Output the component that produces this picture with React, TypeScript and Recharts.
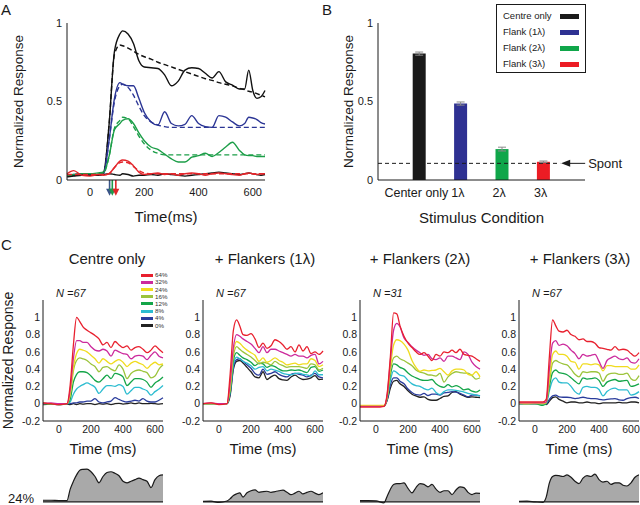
import React from "react";
import {
  Area,
  AreaChart,
  Bar,
  BarChart,
  Cell,
  ErrorBar,
  Line,
  LineChart,
  ReferenceLine,
  XAxis,
  YAxis,
} from "recharts";

const FONT = '"Liberation Sans", Arial, Helvetica, sans-serif';
const INK = "#1a1a1a";

// ---- Panel A: population PSTH with fits ----
const aTime = [-85, -60, -30, 0, 30, 50, 70, 90, 110, 120, 140, 160, 180, 200, 225, 250, 275, 300, 325, 350, 375, 400, 425, 450, 475, 500, 525, 550, 570, 585, 600, 615, 630, 645];
const aCentre = [0.03, 0.03, 0.035, 0.03, 0.035, 0.05, 0.35, 0.82, 0.93, 0.95, 0.93, 0.87, 0.76, 0.72, 0.715, 0.71, 0.67, 0.6, 0.63, 0.7, 0.715, 0.71, 0.68, 0.65, 0.69, 0.625, 0.605, 0.58, 0.58, 0.7, 0.57, 0.52, 0.53, 0.57];
const aCentreFit = [0.03, 0.03, 0.03, 0.03, 0.03, 0.04, 0.35, 0.8, 0.86, 0.855, 0.84, 0.82, 0.8, 0.785, 0.77, 0.75, 0.735, 0.72, 0.705, 0.69, 0.675, 0.66, 0.645, 0.635, 0.62, 0.61, 0.6, 0.585, 0.575, 0.565, 0.56, 0.55, 0.54, 0.53];
const aFlank1 = [0.03, 0.035, 0.04, 0.03, 0.03, 0.04, 0.25, 0.52, 0.62, 0.61, 0.6, 0.6, 0.52, 0.43, 0.37, 0.35, 0.435, 0.36, 0.345, 0.355, 0.41, 0.36, 0.34, 0.335, 0.41, 0.4, 0.37, 0.345, 0.36, 0.4, 0.395, 0.385, 0.365, 0.357];
const aFlank1Fit = [0.03, 0.03, 0.03, 0.03, 0.03, 0.04, 0.25, 0.5, 0.6, 0.61, 0.59, 0.54, 0.47, 0.41, 0.37, 0.35, 0.34, 0.335, 0.335, 0.335, 0.335, 0.335, 0.335, 0.335, 0.335, 0.335, 0.335, 0.335, 0.335, 0.335, 0.335, 0.335, 0.335, 0.335];
const aFlank2 = [0.03, 0.035, 0.04, 0.04, 0.045, 0.05, 0.15, 0.32, 0.36, 0.38, 0.39, 0.36, 0.3, 0.25, 0.21, 0.195, 0.165, 0.135, 0.115, 0.115, 0.145, 0.155, 0.17, 0.15, 0.175, 0.21, 0.24, 0.19, 0.16, 0.155, 0.155, 0.15, 0.15, 0.15];
const aFlank2Fit = [0.03, 0.03, 0.03, 0.035, 0.04, 0.045, 0.15, 0.33, 0.38, 0.4, 0.39, 0.34, 0.28, 0.23, 0.19, 0.17, 0.16, 0.16, 0.16, 0.16, 0.16, 0.16, 0.16, 0.16, 0.16, 0.16, 0.16, 0.16, 0.16, 0.16, 0.16, 0.16, 0.16, 0.16];
const aFlank3 = [0.04, 0.06, 0.03, 0.025, 0.035, 0.03, 0.04, 0.08, 0.12, 0.127, 0.12, 0.09, 0.05, 0.035, 0.04, 0.045, 0.035, 0.04, 0.03, 0.04, 0.045, 0.04, 0.03, 0.04, 0.045, 0.04, 0.035, 0.03, 0.04, 0.045, 0.04, 0.035, 0.04, 0.04];
const aFlank3Fit = [0.035, 0.035, 0.035, 0.035, 0.035, 0.035, 0.04, 0.08, 0.11, 0.115, 0.11, 0.085, 0.06, 0.045, 0.04, 0.04, 0.04, 0.04, 0.04, 0.04, 0.04, 0.04, 0.04, 0.04, 0.04, 0.04, 0.04, 0.04, 0.04, 0.04, 0.04, 0.04, 0.04, 0.04];
const aSpont = [0.02, 0.025, 0.03, 0.03, 0.03, 0.035, 0.04, 0.035, 0.03, 0.04, 0.035, 0.025, 0.03, 0.03, 0.035, 0.03, 0.04, 0.035, 0.03, 0.025, 0.03, 0.035, 0.04, 0.045, 0.05, 0.045, 0.04, 0.035, 0.04, 0.045, 0.04, 0.035, 0.03, 0.035];
const onsetTimes = [72, 82, 95];
const onsetColors = ["#3a5488", "#1f9a4a", "#e0262a"];

// ---- Panel B: mean response per condition ----
const condLabels = ["Center only", "1λ", "2λ", "3λ"];
const condPos = [1, 2, 3, 4];
const condValues = [0.805, 0.487, 0.197, 0.116];
const condErrors = [0.01, 0.01, 0.012, 0.005];
const condColors = ["#1a1a1a", "#2e3192", "#10a64a", "#ec1c24"];
const legendNames = ["Centre only", "Flank (1λ)", "Flank (2λ)", "Flank (3λ)"];
const spontLevel = 0.106;
const spontEnd = 4.4;

// ---- Panel C: contrast series ----
const cTime = [-100, -50, 0, 50, 70, 90, 110, 130, 150, 175, 200, 225, 250, 275, 300, 325, 350, 375, 400, 425, 450, 475, 500, 525, 550, 575, 600, 625, 650];
const contrastLabels = ["64%", "32%", "24%", "16%", "12%", "8%", "4%", "0%"];
const contrastColors = ["#e8202e", "#cc2a9c", "#f0dc1e", "#9cc43c", "#14a548", "#2cbcd0", "#2a3c9c", "#222222"];

const cen64 = [0.01, 0.0, -0.01, 0.0, 0.22, 0.68, 1.0, 0.95, 0.89, 0.85, 0.82, 0.79, 0.75, 0.68, 0.71, 0.65, 0.72, 0.68, 0.65, 0.67, 0.62, 0.65, 0.66, 0.63, 0.59, 0.62, 0.67, 0.63, 0.59];
const cen32 = [0.0, 0.01, 0.0, 0.0, 0.16, 0.52, 0.73, 0.73, 0.71, 0.71, 0.66, 0.62, 0.61, 0.63, 0.61, 0.55, 0.62, 0.6, 0.58, 0.57, 0.52, 0.55, 0.56, 0.55, 0.51, 0.56, 0.6, 0.55, 0.53];
const cen24 = [0.01, 0.0, 0.0, 0.0, 0.12, 0.42, 0.58, 0.63, 0.62, 0.6, 0.56, 0.52, 0.47, 0.52, 0.49, 0.46, 0.49, 0.51, 0.48, 0.43, 0.47, 0.49, 0.47, 0.45, 0.41, 0.45, 0.48, 0.45, 0.46];
const cen16 = [0.0, 0.0, 0.0, 0.0, 0.1, 0.38, 0.5, 0.53, 0.52, 0.5, 0.46, 0.43, 0.37, 0.42, 0.43, 0.4, 0.38, 0.45, 0.4, 0.29, 0.35, 0.38, 0.39, 0.375, 0.36, 0.3, 0.32, 0.4, 0.45];
const cen12 = [0.0, 0.0, -0.01, 0.0, 0.05, 0.25, 0.34, 0.37, 0.37, 0.36, 0.32, 0.27, 0.25, 0.29, 0.33, 0.29, 0.35, 0.34, 0.31, 0.21, 0.25, 0.29, 0.29, 0.28, 0.25, 0.19, 0.24, 0.27, 0.31];
const cen8 = [0.0, 0.0, 0.0, 0.0, 0.02, 0.11, 0.17, 0.2, 0.22, 0.24, 0.22, 0.19, 0.12, 0.17, 0.21, 0.21, 0.2, 0.22, 0.2, 0.11, 0.15, 0.19, 0.19, 0.17, 0.15, 0.1, 0.14, 0.17, 0.21];
const cen4 = [0.01, 0.0, 0.0, 0.0, 0.0, 0.01, 0.01, 0.02, 0.02, 0.03, 0.03, 0.06, 0.02, 0.01, 0.02, 0.03, 0.07, 0.05, 0.03, 0.02, 0.03, 0.04, 0.03, 0.06, 0.03, 0.02, 0.02, 0.04, 0.07];
const cen0 = [-0.01, -0.005, -0.01, -0.005, -0.01, 0.0, -0.01, 0.0, -0.005, 0.0, 0.0, -0.01, 0.0, -0.005, 0.0, -0.01, 0.0, 0.005, -0.005, 0.0, 0.01, 0.0, 0.01, 0.0, 0.0, 0.005, 0.0, -0.005, 0.0];

const f1_64 = [0.0, 0.01, -0.01, 0.0, 0.35, 0.85, 0.97, 0.9, 0.8, 0.79, 0.81, 0.75, 0.65, 0.7, 0.64, 0.67, 0.74, 0.72, 0.68, 0.63, 0.66, 0.6, 0.68, 0.61, 0.66, 0.58, 0.6, 0.57, 0.61];
const f1_32 = [0.0, 0.01, 0.0, 0.0, 0.25, 0.65, 0.8, 0.78, 0.75, 0.72, 0.69, 0.64, 0.59, 0.66, 0.59, 0.63, 0.63, 0.61, 0.59, 0.57, 0.55, 0.57, 0.55, 0.55, 0.53, 0.56, 0.57, 0.46, 0.49];
const f1_24 = [0.0, 0.0, 0.0, 0.0, 0.2, 0.6, 0.72, 0.7, 0.66, 0.62, 0.59, 0.56, 0.49, 0.53, 0.48, 0.5, 0.53, 0.5, 0.48, 0.45, 0.46, 0.47, 0.45, 0.46, 0.46, 0.52, 0.5, 0.43, 0.45];
const f1_16 = [0.0, 0.0, 0.0, 0.0, 0.18, 0.55, 0.66, 0.63, 0.6, 0.57, 0.54, 0.5, 0.46, 0.48, 0.47, 0.45, 0.49, 0.46, 0.44, 0.42, 0.43, 0.43, 0.43, 0.42, 0.41, 0.46, 0.45, 0.39, 0.41];
const f1_12 = [0.0, 0.0, 0.0, 0.0, 0.15, 0.5, 0.59, 0.56, 0.53, 0.51, 0.48, 0.44, 0.47, 0.46, 0.42, 0.44, 0.43, 0.4, 0.38, 0.38, 0.39, 0.385, 0.39, 0.375, 0.36, 0.42, 0.43, 0.375, 0.39];
const f1_8 = [0.0, 0.0, 0.0, 0.0, 0.14, 0.45, 0.54, 0.52, 0.49, 0.47, 0.44, 0.4, 0.42, 0.43, 0.38, 0.4, 0.39, 0.375, 0.35, 0.34, 0.335, 0.35, 0.355, 0.34, 0.335, 0.32, 0.38, 0.335, 0.335];
const f1_4 = [0.0, 0.0, 0.0, 0.0, 0.12, 0.42, 0.51, 0.52, 0.49, 0.45, 0.41, 0.35, 0.33, 0.4, 0.34, 0.35, 0.37, 0.34, 0.32, 0.31, 0.34, 0.35, 0.34, 0.33, 0.31, 0.33, 0.35, 0.31, 0.3];
const f1_0 = [0.0, 0.0, 0.0, 0.0, 0.1, 0.4, 0.49, 0.5, 0.47, 0.42, 0.37, 0.31, 0.3, 0.37, 0.28, 0.31, 0.33, 0.29, 0.275, 0.27, 0.31, 0.33, 0.3, 0.28, 0.285, 0.3, 0.325, 0.28, 0.285];

const f2_64 = [-0.04, -0.04, -0.04, -0.03, 0.12, 0.55, 1.05, 1.04, 0.9, 0.78, 0.7, 0.65, 0.6, 0.57, 0.59, 0.55, 0.5, 0.57, 0.55, 0.6, 0.59, 0.62, 0.59, 0.63, 0.57, 0.56, 0.55, 0.52, 0.49];
const f2_32 = [-0.03, -0.03, -0.03, -0.03, 0.1, 0.5, 0.85, 0.93, 0.89, 0.76, 0.71, 0.66, 0.62, 0.59, 0.56, 0.57, 0.52, 0.51, 0.53, 0.49, 0.55, 0.55, 0.53, 0.51, 0.6, 0.57, 0.48, 0.43, 0.4];
const f2_24 = [-0.02, -0.02, -0.02, -0.02, 0.08, 0.42, 0.68, 0.74, 0.73, 0.69, 0.62, 0.5, 0.42, 0.375, 0.39, 0.38, 0.385, 0.39, 0.41, 0.37, 0.33, 0.38, 0.4, 0.4, 0.39, 0.34, 0.33, 0.37, 0.31];
const f2_16 = [-0.03, -0.03, -0.03, -0.03, 0.08, 0.38, 0.53, 0.55, 0.52, 0.5, 0.47, 0.44, 0.39, 0.365, 0.355, 0.335, 0.33, 0.32, 0.35, 0.25, 0.31, 0.35, 0.37, 0.36, 0.355, 0.355, 0.325, 0.285, 0.3];
const f2_12 = [-0.03, -0.03, -0.03, -0.03, 0.07, 0.33, 0.46, 0.45, 0.42, 0.4, 0.355, 0.32, 0.3, 0.28, 0.27, 0.27, 0.28, 0.23, 0.2, 0.19, 0.22, 0.195, 0.21, 0.19, 0.16, 0.17, 0.145, 0.135, 0.16];
const f2_8 = [-0.03, -0.03, -0.03, -0.03, 0.06, 0.27, 0.38, 0.36, 0.33, 0.32, 0.27, 0.23, 0.21, 0.2, 0.175, 0.16, 0.18, 0.13, 0.105, 0.14, 0.16, 0.16, 0.155, 0.145, 0.135, 0.12, 0.11, 0.1, 0.09];
const f2_4 = [-0.03, -0.03, -0.03, -0.03, 0.05, 0.22, 0.3, 0.3, 0.26, 0.23, 0.17, 0.13, 0.105, 0.1, 0.12, 0.095, 0.11, 0.11, 0.1, 0.125, 0.13, 0.14, 0.135, 0.12, 0.1, 0.08, 0.1, 0.1, 0.09];
const f2_0 = [-0.03, -0.03, -0.03, -0.03, 0.04, 0.18, 0.26, 0.27, 0.23, 0.2, 0.15, 0.11, 0.09, 0.075, 0.08, 0.05, 0.04, 0.04, 0.06, 0.085, 0.09, 0.13, 0.14, 0.11, 0.09, 0.075, 0.08, 0.075, 0.07];

const f3_64 = [0.02, 0.02, 0.02, 0.02, 0.05, 0.55, 0.97, 0.9, 0.84, 0.83, 0.85, 0.8, 0.78, 0.74, 0.75, 0.72, 0.72, 0.7, 0.65, 0.64, 0.63, 0.62, 0.66, 0.62, 0.63, 0.62, 0.58, 0.55, 0.59];
const f3_32 = [0.01, 0.01, 0.01, 0.01, 0.02, 0.4, 0.7, 0.73, 0.675, 0.69, 0.67, 0.62, 0.58, 0.52, 0.57, 0.55, 0.56, 0.57, 0.49, 0.41, 0.5, 0.53, 0.55, 0.52, 0.51, 0.53, 0.48, 0.47, 0.52];
const f3_24 = [0.01, 0.0, 0.01, 0.0, 0.02, 0.3, 0.57, 0.61, 0.57, 0.57, 0.55, 0.49, 0.48, 0.4, 0.46, 0.46, 0.45, 0.46, 0.45, 0.38, 0.44, 0.44, 0.43, 0.43, 0.43, 0.43, 0.4, 0.4, 0.45];
const f3_16 = [0.0, 0.0, 0.0, 0.0, 0.01, 0.25, 0.47, 0.5, 0.48, 0.46, 0.45, 0.4, 0.34, 0.31, 0.37, 0.36, 0.37, 0.37, 0.355, 0.26, 0.33, 0.35, 0.355, 0.34, 0.34, 0.355, 0.29, 0.27, 0.325];
const f3_12 = [0.0, 0.0, 0.0, -0.02, 0.01, 0.2, 0.36, 0.39, 0.36, 0.35, 0.335, 0.3, 0.26, 0.23, 0.3, 0.285, 0.29, 0.3, 0.27, 0.2, 0.25, 0.27, 0.28, 0.26, 0.265, 0.27, 0.2, 0.21, 0.23];
const f3_8 = [0.0, 0.0, 0.0, -0.01, 0.0, 0.15, 0.27, 0.3, 0.25, 0.24, 0.24, 0.2, 0.14, 0.11, 0.19, 0.2, 0.19, 0.19, 0.165, 0.09, 0.14, 0.17, 0.18, 0.16, 0.16, 0.16, 0.1, 0.11, 0.14];
const f3_4 = [0.0, 0.0, 0.0, 0.0, 0.0, 0.05, 0.09, 0.1, 0.08, 0.075, 0.075, 0.07, 0.06, 0.065, 0.075, 0.065, 0.06, 0.06, 0.05, 0.045, 0.05, 0.055, 0.06, 0.045, 0.04, 0.06, 0.07, 0.075, 0.06];
const f3_0 = [0.0, 0.0, 0.0, 0.0, -0.01, 0.03, 0.07, 0.08, 0.05, 0.03, 0.01, 0.02, 0.02, 0.01, 0.01, 0.02, 0.01, 0.01, 0.0, 0.01, 0.01, 0.01, 0.01, 0.015, 0.01, 0.01, 0.02, 0.02, 0.01];

// grey traces under each panel (24% contrast)
const supCentre = [0.01, 0.01, 0.008, 0.008, 0.08, 0.13, 0.17, 0.2, 0.205, 0.207, 0.19, 0.16, 0.12, 0.16, 0.185, 0.19, 0.18, 0.165, 0.13, 0.12, 0.13, 0.14, 0.15, 0.14, 0.13, 0.09, 0.14, 0.165, 0.17];
const supF1 = [0.003, 0.004, -0.004, 0.005, 0.02, 0.04, 0.05, 0.057, 0.03, 0.057, 0.07, 0.075, 0.06, 0.065, 0.067, 0.06, 0.065, 0.07, 0.074, 0.06, 0.045, 0.055, 0.067, 0.05, 0.06, 0.067, 0.055, 0.046, 0.057];
const supF2 = [0.008, 0.008, 0.006, -0.006, 0.036, 0.08, 0.11, 0.115, 0.115, 0.12, 0.085, 0.057, 0.09, 0.115, 0.11, 0.095, 0.11, 0.08, 0.06, 0.07, 0.07, 0.046, 0.075, 0.095, 0.09, 0.06, 0.046, 0.055, 0.053];
const supF3 = [0.003, 0.004, 0.0, -0.003, 0.03, 0.12, 0.16, 0.167, 0.165, 0.16, 0.17, 0.155, 0.13, 0.115, 0.15, 0.165, 0.16, 0.175, 0.14, 0.125, 0.13, 0.11, 0.12, 0.12, 0.105, 0.1, 0.12, 0.155, 0.17];

const panelTitles = ["Centre only", "+ Flankers (1λ)", "+ Flankers (2λ)", "+ Flankers (3λ)"];
const panelN = ["N =67", "N =67", "N =31", "N =67"];

const aSeries = [
  { key: "centre", values: aCentre, color: "#111111", dash: undefined },
  { key: "centreFit", values: aCentreFit, color: "#111111", dash: "5 3" },
  { key: "flank1", values: aFlank1, color: "#2b3595", dash: undefined },
  { key: "flank1Fit", values: aFlank1Fit, color: "#2b3595", dash: "5 3" },
  { key: "flank2", values: aFlank2, color: "#1c9e48", dash: undefined },
  { key: "flank2Fit", values: aFlank2Fit, color: "#1c9e48", dash: "5 3" },
  { key: "spont", values: aSpont, color: "#111111", dash: undefined },
  { key: "flank3", values: aFlank3, color: "#e3262b", dash: undefined },
  { key: "flank3Fit", values: aFlank3Fit, color: "#e3262b", dash: "5 3" },
];

const aRows = aTime.map((t, i) => {
  const row: Record<string, number> = { t };
  aSeries.forEach((s) => (row[s.key] = s.values[i]));
  return row;
});

const bRows = condPos.map((pos, i) => ({ pos, value: condValues[i], err: condErrors[i] }));

const contrastKeys = ["c64", "c32", "c24", "c16", "c12", "c8", "c4", "c0"];
const panelSeries = [
  [cen64, cen32, cen24, cen16, cen12, cen8, cen4, cen0],
  [f1_64, f1_32, f1_24, f1_16, f1_12, f1_8, f1_4, f1_0],
  [f2_64, f2_32, f2_24, f2_16, f2_12, f2_8, f2_4, f2_0],
  [f3_64, f3_32, f3_24, f3_16, f3_12, f3_8, f3_4, f3_0],
];
const panelSup = [supCentre, supF1, supF2, supF3];

function buildRows(p: number) {
  return cTime.map((t, i) => {
    const row: Record<string, number> = { t, sup: panelSup[p][i] };
    contrastKeys.forEach((k, j) => (row[k] = panelSeries[p][j][i]));
    return row;
  });
}

// layout
const cLeft = [0, 160, 317, 476];
const cTitleCenter = [107, 265, 420, 580];

function OnsetArrow(props: any) {
  const { x1, y1, x2, y2, color } = props;
  if (x1 == null) return null;
  return (
    <g>
      <line x1={x1} y1={y1} x2={x2} y2={y2 - 4} stroke={color} strokeWidth={1.6} />
      <polygon points={`${x2 - 3.5},${y2 - 7} ${x2 + 3.5},${y2 - 7} ${x2},${y2}`} fill={color} />
    </g>
  );
}

function SpontLabel(props: any) {
  const { viewBox } = props;
  if (!viewBox) return null;
  const x = viewBox.x + viewBox.width;
  const y = viewBox.y;
  return (
    <g>
      <line x1={x + 6} y1={y} x2={x + 25} y2={y} stroke={INK} strokeWidth={1} />
      <polygon points={`${x + 1},${y} ${x + 10},${y - 3.5} ${x + 10},${y + 3.5}`} fill={INK} />
      <text x={x + 28} y={y} dominantBaseline="central" fontSize={13} fill={INK}>
        Spont
      </text>
    </g>
  );
}

function PanelA() {
  return (
    <div style={{ position: "absolute", left: 0, top: 0 }}>
      <LineChart width={275} height={232} data={aRows} margin={{ top: 23, right: 10, bottom: 0, left: 0 }}>
        <XAxis
          dataKey="t"
          type="number"
          domain={[-85, 645]}
          ticks={[0, 200, 400, 600]}
          height={52}
          tickLine={false}
          tickSize={6}
          tickMargin={2}
          axisLine={{ stroke: INK }}
          tick={{ fontSize: 11, fill: INK }}
          label={{ value: "Time(ms)", position: "insideBottom", offset: 10, fontSize: 15, fill: INK }}
        />
        <YAxis
          type="number"
          domain={[0, 1]}
          ticks={[0, 0.5, 1]}
          width={67}
          tickLine={false}
          tickSize={3}
          tickMargin={2}
          axisLine={{ stroke: INK }}
          tick={{ fontSize: 11, fill: INK }}
          label={{
            value: "Normalized Response",
            angle: -90,
            position: "insideLeft",
            offset: 18,
            fontSize: 13.5,
            fill: INK,
            style: { textAnchor: "middle" },
          }}
        />
        {onsetTimes.map((t, i) => (
          <ReferenceLine
            key={t}
            segment={[
              { x: t, y: 0 },
              { x: t, y: -0.1 },
            ]}
            ifOverflow="visible"
            stroke={onsetColors[i]}
            shape={(p: any) => <OnsetArrow {...p} color={onsetColors[i]} />}
          />
        ))}
        {aSeries.map((s) => (
          <Line
            key={s.key}
            dataKey={s.key}
            type="monotone"
            stroke={s.color}
            strokeWidth={1.4}
            strokeDasharray={s.dash}
            dot={false}
            isAnimationActive={false}
          />
        ))}
      </LineChart>
    </div>
  );
}

function PanelB() {
  return (
    <div style={{ position: "absolute", left: 290, top: 0 }}>
      <BarChart width={350} height={232} data={bRows} margin={{ top: 23, right: 55, bottom: 0, left: 0 }}>
        <XAxis
          dataKey="pos"
          type="number"
          domain={[0, 5]}
          ticks={condPos}
          tickFormatter={(v: number) => condLabels[condPos.indexOf(v)] ?? ""}
          height={52}
          tickLine={false}
          tickSize={6}
          tickMargin={2}
          axisLine={{ stroke: INK }}
          tick={{ fontSize: 12.5, fill: INK, dx: -3 }}
          label={{ value: "Stimulus Condition", position: "insideBottom", offset: 9, fontSize: 15, fill: INK }}
        />
        <YAxis
          type="number"
          domain={[0, 1]}
          ticks={[0, 0.5, 1]}
          width={88}
          tickLine={false}
          tickSize={3}
          tickMargin={2}
          axisLine={{ stroke: INK }}
          tick={{ fontSize: 11, fill: INK }}
          label={{
            value: "Normalized Response",
            angle: -90,
            position: "insideLeft",
            offset: 58,
            fontSize: 13.5,
            fill: INK,
            style: { textAnchor: "middle" },
          }}
        />
        <ReferenceLine
          segment={[
            { x: 0, y: spontLevel },
            { x: spontEnd, y: spontLevel },
          ]}
          stroke={INK}
          strokeDasharray="4 3"
          strokeWidth={1}
          label={<SpontLabel />}
        />
        <Bar dataKey="value" barSize={13} isAnimationActive={false}>
          {bRows.map((r, i) => (
            <Cell key={r.pos} fill={condColors[i]} />
          ))}
          <ErrorBar dataKey="err" width={4} stroke="#8a8a8a" strokeWidth={1} direction="y" />
        </Bar>
      </BarChart>
      <div
        style={{
          position: "absolute",
          left: 206,
          top: 4,
          width: 88,
          height: 67,
          border: `1px solid ${INK}`,
          background: "#fff",
        }}
      >
        {legendNames.map((name, i) => (
          <div
            key={name}
            style={{ position: "absolute", left: 6, top: 4 + i * 16, height: 14, width: 80, fontSize: 9.5, lineHeight: "14px" }}
          >
            {name}
            <span
              style={{
                position: "absolute",
                left: 57,
                top: 4.5,
                width: 19,
                height: 5,
                background: condColors[i],
              }}
            />
          </div>
        ))}
      </div>
    </div>
  );
}

function ContrastPanel({ p }: { p: number }) {
  const rows = buildRows(p);
  const plotLeft = cLeft[p] + 43;
  return (
    <>
      <div
        style={{
          position: "absolute",
          left: cTitleCenter[p] - 100,
          top: 250,
          width: 200,
          textAlign: "center",
          fontSize: 15,
          lineHeight: "18px",
        }}
      >
        {panelTitles[p]}
      </div>
      <div style={{ position: "absolute", left: plotLeft + 13, top: 287, fontSize: 11, fontStyle: "italic", lineHeight: "12px" }}>
        {panelN[p]}
      </div>
      <div style={{ position: "absolute", left: cLeft[p], top: 290 }}>
        <LineChart width={168} height={171} data={rows} margin={{ top: 10, right: 5, bottom: 0, left: 0 }}>
          <XAxis
            dataKey="t"
            type="number"
            domain={[-100, 650]}
            ticks={[0, 200, 400, 600]}
            height={40}
            tickLine={false}
            tickSize={3}
            tickMargin={2}
            axisLine={{ stroke: INK }}
            tick={{ fontSize: 10.5, fill: INK }}
            label={{ value: "Time (ms)", position: "insideBottom", offset: 7, fontSize: 15, fill: INK }}
          />
          <YAxis
            type="number"
            domain={[-0.2, 1.2]}
            ticks={[-0.2, 0, 0.2, 0.4, 0.6, 0.8, 1]}
            width={43}
            tickLine={false}
            tickSize={1}
            tickMargin={2}
            axisLine={{ stroke: INK }}
            tick={{ fontSize: 10.5, fill: INK }}
            label={
              p === 0
                ? {
                    value: "Normalized Response",
                    angle: -90,
                    position: "insideLeft",
                    offset: 8,
                    fontSize: 14,
                    fill: INK,
                    style: { textAnchor: "middle" },
                  }
                : undefined
            }
          />
          {contrastKeys
            .slice()
            .reverse()
            .map((k) => {
              const j = contrastKeys.indexOf(k);
              return (
                <Line
                  key={k}
                  dataKey={k}
                  type="monotone"
                  stroke={contrastColors[j]}
                  strokeWidth={1.3}
                  dot={false}
                  isAnimationActive={false}
                />
              );
            })}
        </LineChart>
      </div>
      <div style={{ position: "absolute", left: plotLeft, top: 467 }}>
        <AreaChart width={120} height={38} data={rows} margin={{ top: 0, right: 0, bottom: 0, left: 0 }}>
          <XAxis dataKey="t" type="number" domain={[-100, 650]} hide />
          <YAxis type="number" domain={[-0.02, 0.22]} hide />
          <Area
            dataKey="sup"
            type="monotone"
            stroke={INK}
            strokeWidth={1.2}
            fill="#a9a9a9"
            fillOpacity={1}
            isAnimationActive={false}
          />
          <ReferenceLine y={0} stroke={INK} strokeWidth={1.2} />
        </AreaChart>
      </div>
    </>
  );
}

function ContrastLegend() {
  return (
    <div style={{ position: "absolute", left: 141, top: 271 }}>
      {contrastLabels.map((lab, i) => (
        <div key={lab} style={{ position: "absolute", left: 0, top: i * 7.2, height: 7.2, width: 40 }}>
          <span
            style={{
              position: "absolute",
              left: 0,
              top: 2.5,
              width: 12,
              height: 3,
              background: contrastColors[i],
            }}
          />
          <span
            style={{
              position: "absolute",
              left: 14,
              top: 0.3,
              fontSize: 6.2,
              lineHeight: "7px",
              color: "#333",
            }}
          >
            {lab}
          </span>
        </div>
      ))}
    </div>
  );
}

export default function App() {
  return (
    <div
      style={{
        position: "absolute",
        left: 0,
        top: 0,
        width: 640,
        height: 505,
        overflow: "hidden",
        background: "#fff",
        fontFamily: FONT,
        color: INK,
      }}
    >
      <PanelA />
      <PanelB />
      {[0, 1, 2, 3].map((p) => (
        <ContrastPanel key={p} p={p} />
      ))}
      <ContrastLegend />
      <div style={{ position: "absolute", left: 1, top: 1, fontSize: 15, lineHeight: "17px" }}>A</div>
      <div style={{ position: "absolute", left: 322, top: 1, fontSize: 15, lineHeight: "17px" }}>B</div>
      <div style={{ position: "absolute", left: 1, top: 236, fontSize: 15, lineHeight: "17px" }}>C</div>
      <div style={{ position: "absolute", left: 8, top: 491, fontSize: 13 }}>24%</div>
    </div>
  );
}
